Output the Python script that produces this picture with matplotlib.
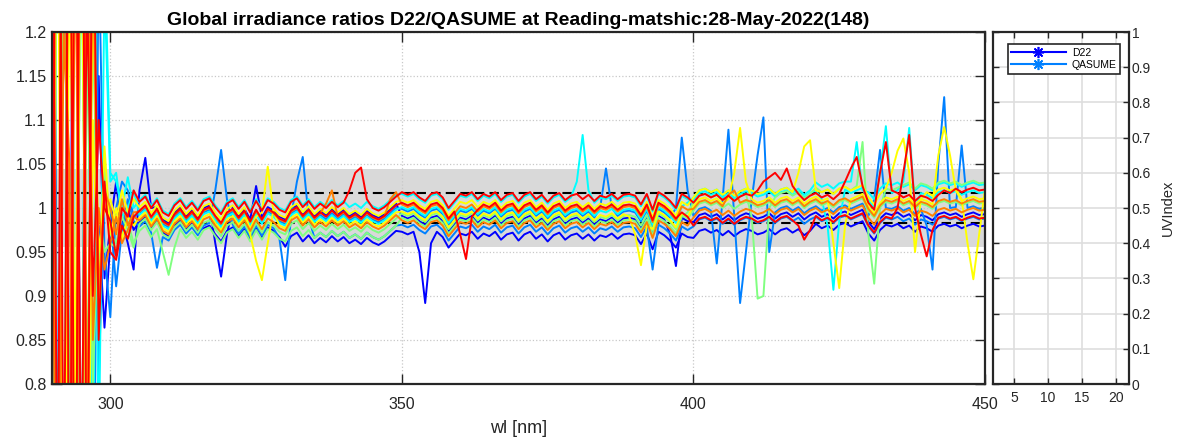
import numpy as np
import matplotlib.pyplot as plt
from matplotlib.ticker import FormatStrFormatter

plt.rcParams['font.family'] = ['Liberation Sans', 'DejaVu Sans']

# wavelength grid [nm]
wl = np.arange(290, 451)

# D22/QASUME global irradiance ratios, one list per scan (290..450 nm)
r01 = [1.45, 0.55, 1.6, 0.45, 1.5, 0.6, 1.3, 0.75, 1.15, 0.92,
       0.98, 1.03, 0.97, 1.0, 0.975, 0.984, 0.99, 0.977, 0.986, 0.972,
       0.968, 0.98, 0.986, 0.976, 0.983, 0.974, 0.977, 0.98, 0.97, 0.962,
       0.974, 0.978, 0.968, 0.976, 0.964, 0.977, 0.966, 0.978, 0.974, 0.967,
       0.956, 0.968, 0.972, 0.962, 0.969, 0.96, 0.966, 0.961, 0.968, 0.962,
       0.967, 0.96, 0.964, 0.959, 0.966, 0.961, 0.958, 0.962, 0.968, 0.974,
       0.973, 0.97, 0.973, 0.95, 0.892, 0.96, 0.973, 0.967, 0.955, 0.963,
       0.971, 0.969, 0.973, 0.965, 0.971, 0.968, 0.973, 0.964, 0.97, 0.972,
       0.963, 0.97, 0.973, 0.965, 0.97, 0.962, 0.969, 0.972, 0.964, 0.969,
       0.971, 0.965, 0.97, 0.963, 0.969, 0.967, 0.971, 0.965, 0.97, 0.971,
       0.969, 0.959, 0.971, 0.953, 0.973, 0.969, 0.963, 0.955, 0.971, 0.967,
       0.966, 0.974, 0.976, 0.972, 0.975, 0.969, 0.974, 0.968, 0.973, 0.976,
       0.974, 0.97, 0.972, 0.976, 0.97, 0.975, 0.977, 0.972, 0.976, 0.969,
       0.974, 0.982, 0.977, 0.98, 0.975, 0.981, 0.983, 0.979, 0.982, 0.985,
       0.971, 0.963, 0.975, 0.981, 0.979, 0.982, 0.977, 0.98, 0.973, 0.979,
       0.977, 0.973, 0.98, 0.982, 0.979, 0.981, 0.977, 0.98, 0.982, 0.979,
       0.98]
r02 = [1.8, 0.35, 1.45, 0.65, 1.85, 0.45, 1.55, 0.8, 0.98, 0.864,
       0.96, 1.0, 0.985, 0.96, 0.93, 1.02, 1.057, 1.0, 1.001, 0.987,
       0.983, 0.995, 1.001, 0.991, 0.998, 0.989, 1.0, 1.003, 0.96, 0.922,
       0.97, 1.001, 0.991, 0.999, 0.987, 1.025, 0.989, 1.001, 0.997, 0.99,
       0.987, 0.999, 1.003, 0.993, 1.0, 0.991, 0.997, 0.992, 0.999, 0.993,
       0.998, 0.991, 0.995, 0.99, 0.997, 0.992, 0.989, 0.993, 0.999, 1.005,
       0.991, 0.988, 0.991, 0.985, 0.981, 0.989, 0.991, 0.985, 0.973, 0.981,
       0.989, 0.987, 0.991, 0.983, 0.989, 0.986, 0.991, 0.982, 0.988, 0.99,
       0.981, 0.988, 0.991, 0.983, 0.988, 0.98, 0.987, 0.99, 0.982, 0.987,
       0.989, 0.983, 0.988, 0.981, 0.987, 0.985, 0.989, 0.983, 0.988, 0.989,
       0.987, 0.977, 0.989, 0.971, 0.991, 0.987, 0.97, 0.934, 0.989, 0.985,
       0.984, 0.992, 0.994, 0.99, 0.993, 0.987, 0.992, 0.986, 0.991, 0.994,
       0.992, 0.988, 0.99, 0.994, 0.988, 0.993, 0.995, 0.99, 0.994, 0.987,
       0.992, 0.995, 0.99, 0.993, 0.988, 0.994, 0.996, 0.992, 0.995, 0.998,
       0.984, 0.976, 0.988, 0.994, 0.992, 0.995, 0.99, 0.993, 0.986, 0.992,
       0.99, 0.986, 0.993, 0.995, 0.992, 0.994, 0.99, 0.993, 0.995, 0.992,
       0.993]
r03 = [0.88, 1.7, 0.5, 1.6, 0.4, 1.5, 0.6, 1.35, 0.8, 1.04,
       0.99, 0.911, 0.975, 1.01, 0.985, 0.979, 0.985, 0.972, 0.932, 0.967,
       0.963, 0.975, 0.981, 0.971, 0.978, 0.969, 0.98, 0.983, 1.02, 1.066,
       1.01, 0.981, 0.971, 0.979, 0.967, 0.98, 0.969, 0.981, 0.977, 0.965,
       0.918, 0.99, 1.03, 1.058, 0.99, 0.966, 0.972, 0.967, 0.974, 0.968,
       0.973, 0.966, 0.97, 0.965, 0.972, 0.967, 0.964, 0.968, 0.974, 0.98,
       0.981, 0.978, 0.981, 0.975, 0.971, 0.979, 0.981, 0.975, 0.963, 0.971,
       0.979, 0.977, 0.981, 0.973, 0.979, 0.976, 0.981, 0.972, 0.978, 0.98,
       0.971, 0.978, 0.981, 0.973, 0.978, 0.97, 0.977, 0.98, 0.972, 0.977,
       0.979, 0.973, 0.978, 0.971, 0.977, 0.975, 0.979, 0.973, 0.978, 0.979,
       0.977, 0.967, 0.979, 0.93, 0.981, 0.977, 0.971, 0.963, 0.979, 0.975,
       0.979, 0.987, 0.989, 0.985, 0.988, 0.982, 0.987, 0.981, 0.986, 0.989,
       0.987, 0.983, 0.985, 0.989, 0.983, 0.988, 0.99, 0.985, 0.989, 0.982,
       0.987, 0.99, 0.985, 0.988, 0.983, 0.989, 0.991, 0.987, 0.99, 0.993,
       0.979, 0.971, 0.983, 0.989, 0.987, 0.99, 0.985, 0.988, 0.981, 0.987,
       0.985, 0.981, 0.988, 0.99, 0.987, 0.989, 0.985, 0.988, 0.99, 0.987,
       0.988]
r04 = [1.9, 0.6, 1.8, 0.35, 1.7, 0.5, 1.6, 0.45, 1.3, 0.95,
       0.876, 1.0, 1.03, 1.02, 0.99, 0.994, 1.0, 0.987, 0.996, 0.982,
       0.978, 0.99, 0.996, 0.986, 0.993, 0.984, 0.995, 0.998, 0.988, 0.98,
       0.992, 0.996, 0.986, 0.994, 0.982, 0.995, 0.984, 0.996, 0.992, 0.985,
       0.982, 0.994, 0.998, 0.988, 0.995, 0.986, 0.992, 0.987, 0.994, 0.988,
       0.993, 0.986, 0.99, 0.985, 0.992, 0.987, 0.984, 0.988, 0.994, 1.0,
       0.999, 0.996, 0.999, 0.993, 0.989, 0.997, 0.999, 0.993, 0.981, 0.989,
       0.997, 0.995, 0.999, 0.991, 0.997, 0.994, 0.999, 0.99, 0.996, 0.998,
       0.989, 0.996, 0.999, 0.991, 0.996, 0.988, 0.995, 0.998, 0.99, 0.995,
       0.997, 0.991, 0.996, 0.989, 1.0, 1.045, 1.0, 0.991, 0.996, 0.997,
       0.995, 0.985, 0.997, 0.979, 0.999, 0.995, 0.989, 1.0, 1.08, 1.02,
       0.991, 0.999, 1.001, 0.997, 0.937, 1.01, 1.089, 0.99, 0.892, 0.95,
       1.01, 1.06, 1.103, 0.95, 0.995, 1.0, 1.002, 0.997, 1.001, 0.994,
       0.999, 1.002, 0.997, 1.0, 0.995, 1.001, 1.003, 0.999, 1.002, 1.005,
       0.991, 1.01, 1.066, 1.0, 0.999, 1.002, 0.997, 1.0, 0.993, 0.999,
       0.98, 0.93, 1.05, 1.126, 1.0, 1.001, 1.071, 1.0, 1.002, 0.999,
       1.0]
r05 = [1.5, 0.3, 1.9, 0.5, 1.7, 0.4, 1.8, 0.6, 1.6, 1.3,
       1.04, 1.03, 1.0, 1.035, 1.0, 1.009, 1.015, 1.002, 1.011, 0.997,
       0.993, 1.005, 1.011, 1.001, 1.008, 0.999, 1.01, 1.013, 1.003, 0.995,
       1.007, 1.011, 1.001, 1.009, 0.997, 1.01, 0.999, 1.011, 1.007, 1.0,
       0.997, 1.009, 1.013, 1.003, 1.01, 1.001, 1.007, 1.002, 1.009, 1.003,
       1.008, 1.001, 1.005, 1.0, 1.007, 1.002, 0.999, 1.003, 1.009, 1.015,
       1.016, 1.013, 1.016, 1.01, 1.006, 1.014, 1.016, 1.01, 0.998, 1.006,
       1.014, 1.012, 1.016, 1.008, 1.014, 1.011, 1.016, 1.007, 1.013, 1.015,
       1.006, 1.013, 1.016, 1.008, 1.013, 1.005, 1.012, 1.015, 1.007, 1.012,
       1.03, 1.083, 1.02, 1.006, 1.012, 1.01, 1.014, 1.008, 1.013, 1.014,
       1.012, 1.002, 1.014, 0.996, 1.016, 1.012, 1.006, 0.998, 1.014, 1.01,
       1.009, 1.017, 1.019, 1.015, 1.018, 1.012, 1.017, 1.011, 1.016, 1.019,
       1.017, 1.013, 1.015, 1.019, 1.013, 1.018, 1.02, 1.015, 1.019, 1.012,
       1.017, 1.02, 1.01, 0.98, 0.907, 0.985, 1.021, 1.017, 1.02, 1.023,
       1.009, 1.001, 1.04, 1.093, 1.017, 1.02, 1.03, 1.091, 1.0, 1.017,
       1.015, 1.011, 1.018, 1.02, 1.017, 1.019, 1.015, 1.018, 1.02, 1.017,
       1.018]
r06 = [0.7, 1.8, 0.4, 1.9, 0.6, 1.7, 0.5, 1.5, 0.7, 1.25,
       1.03, 1.04, 0.99, 1.0, 1.02, 0.992, 0.998, 0.985, 0.994, 0.98,
       0.976, 0.988, 0.994, 0.984, 0.991, 0.982, 0.993, 0.996, 0.986, 0.978,
       0.99, 0.994, 0.984, 0.992, 0.98, 0.993, 0.982, 0.994, 0.99, 0.983,
       0.98, 0.992, 0.996, 0.986, 0.993, 0.984, 0.99, 0.985, 0.992, 0.986,
       0.991, 0.984, 0.988, 0.983, 0.99, 0.985, 0.982, 0.986, 0.992, 0.998,
       1.001, 0.998, 1.001, 0.995, 0.991, 0.999, 1.001, 0.995, 0.983, 0.991,
       0.999, 0.997, 1.001, 0.993, 0.999, 0.996, 1.001, 0.992, 0.998, 1.0,
       0.991, 0.998, 1.001, 0.993, 0.998, 0.99, 0.997, 1.0, 0.992, 0.997,
       0.999, 0.993, 0.998, 0.991, 0.997, 0.995, 0.999, 0.993, 0.998, 0.999,
       0.997, 0.987, 0.999, 0.981, 1.001, 0.997, 0.991, 0.983, 1.002, 1.006,
       1.012, 1.02, 1.022, 1.018, 1.021, 1.015, 1.02, 1.014, 1.019, 1.022,
       1.02, 1.016, 1.018, 1.022, 1.016, 1.021, 1.023, 1.018, 1.022, 1.015,
       1.02, 1.029, 1.024, 1.027, 1.022, 1.028, 1.03, 1.03, 1.075, 1.02,
       1.018, 1.01, 1.022, 1.028, 1.026, 1.029, 1.024, 1.027, 1.02, 1.026,
       1.024, 1.02, 1.027, 1.029, 1.026, 1.028, 1.024, 1.027, 1.029, 1.026,
       1.027]
r07 = [1.3, 0.4, 1.5, 0.7, 1.6, 0.45, 1.2, 0.8, 1.0, 0.95,
       0.96, 0.955, 0.97, 0.985, 0.96, 0.974, 0.98, 0.967, 0.976, 0.95,
       0.924, 0.955, 0.976, 0.966, 0.973, 0.964, 0.975, 0.978, 0.968, 0.96,
       0.972, 0.976, 0.966, 0.974, 0.962, 0.975, 0.964, 0.976, 0.972, 0.965,
       0.962, 0.974, 0.978, 0.968, 0.975, 0.966, 0.972, 0.967, 0.974, 0.968,
       0.973, 0.966, 0.97, 0.965, 0.972, 0.967, 0.964, 0.968, 0.974, 0.98,
       0.989, 0.986, 0.989, 0.983, 0.979, 0.987, 0.989, 0.983, 0.971, 0.979,
       0.987, 0.985, 0.989, 0.981, 0.987, 0.984, 0.989, 0.98, 0.986, 0.988,
       0.979, 0.986, 0.989, 0.981, 0.986, 0.978, 0.985, 0.988, 0.98, 0.985,
       0.987, 0.981, 0.986, 0.979, 0.985, 0.983, 0.987, 0.981, 0.986, 0.987,
       0.985, 0.975, 0.987, 0.969, 0.989, 0.985, 0.979, 0.971, 0.99, 0.995,
       1.006, 1.014, 1.016, 1.012, 1.015, 1.009, 1.014, 1.008, 1.013, 1.016,
       0.99, 0.897, 0.9, 1.0, 1.012, 1.017, 1.019, 1.014, 1.018, 1.011,
       1.016, 1.023, 1.018, 1.021, 1.016, 1.022, 1.024, 1.02, 1.025, 1.075,
       0.97, 0.914, 1.0, 1.022, 1.02, 1.023, 1.026, 1.029, 1.022, 1.028,
       1.026, 1.022, 1.029, 1.031, 1.028, 1.03, 1.026, 1.029, 1.031, 1.028,
       1.029]
r08 = [0.5, 1.5, 0.6, 1.4, 0.7, 1.3, 0.8, 1.2, 0.93, 1.05,
       0.97, 0.96, 0.99, 0.975, 0.955, 0.982, 0.988, 0.975, 0.984, 0.97,
       0.966, 0.978, 0.984, 0.974, 0.981, 0.972, 0.983, 0.986, 0.976, 0.968,
       0.98, 0.984, 0.974, 0.982, 0.97, 0.983, 0.972, 0.984, 0.98, 0.973,
       0.97, 0.982, 0.986, 0.976, 0.983, 0.974, 0.98, 0.975, 0.982, 0.976,
       0.981, 0.974, 0.978, 0.973, 0.98, 0.975, 0.972, 0.976, 0.982, 0.988,
       0.994, 0.991, 0.994, 0.988, 0.984, 0.992, 0.994, 0.988, 0.976, 0.984,
       0.992, 0.99, 0.994, 0.986, 0.992, 0.989, 0.994, 0.985, 0.991, 0.993,
       0.984, 0.991, 0.994, 0.986, 0.991, 0.983, 0.99, 0.993, 0.985, 0.99,
       0.992, 0.986, 0.991, 0.984, 0.99, 0.988, 0.992, 0.986, 0.991, 0.992,
       0.99, 0.98, 0.992, 0.974, 0.994, 0.99, 0.984, 0.976, 0.992, 0.988,
       0.997, 1.005, 1.007, 1.003, 1.006, 1.0, 1.005, 0.999, 1.004, 1.007,
       1.005, 1.001, 1.003, 1.007, 1.001, 1.006, 1.008, 1.003, 1.007, 1.0,
       1.005, 1.008, 1.003, 1.006, 1.001, 1.007, 1.009, 1.005, 1.008, 1.011,
       0.997, 0.989, 1.001, 1.007, 1.005, 1.008, 1.003, 1.006, 0.999, 1.005,
       1.003, 0.999, 1.006, 1.008, 1.005, 1.007, 1.003, 1.006, 1.008, 1.005,
       1.006]
r09 = [1.2, 1.7, 0.4, 1.3, 0.8, 1.6, 0.5, 1.1, 0.892, 1.07,
       0.97, 1.0, 0.965, 0.99, 0.98, 0.989, 0.995, 0.982, 0.991, 0.977,
       0.973, 0.985, 0.991, 0.981, 0.988, 0.979, 0.99, 0.993, 0.983, 0.975,
       0.987, 0.991, 0.981, 0.989, 0.977, 0.99, 0.995, 1.047, 0.995, 0.98,
       0.977, 0.989, 0.993, 0.983, 0.99, 0.981, 0.987, 0.982, 0.989, 0.983,
       0.988, 0.981, 0.985, 0.98, 0.987, 0.982, 0.979, 0.983, 0.989, 0.995,
       0.996, 0.993, 0.996, 0.99, 0.986, 0.994, 0.996, 0.99, 0.978, 0.986,
       0.994, 0.992, 0.996, 0.988, 0.994, 0.991, 0.996, 0.987, 0.993, 0.995,
       0.986, 0.993, 0.996, 0.988, 0.993, 0.985, 0.992, 0.995, 0.987, 0.992,
       0.994, 0.988, 0.993, 0.986, 0.992, 0.99, 0.994, 0.988, 0.993, 0.99,
       0.97, 0.935, 0.98, 0.976, 0.996, 0.992, 0.986, 0.978, 0.994, 0.99,
       1.002, 1.01, 1.012, 1.008, 1.011, 1.005, 1.01, 1.04, 1.091, 1.03,
       1.01, 1.006, 1.008, 1.012, 1.006, 1.011, 1.013, 1.008, 1.012, 1.005,
       1.01, 1.013, 1.008, 1.011, 0.96, 0.909, 0.98, 1.01, 1.013, 1.016,
       1.002, 0.994, 1.006, 1.012, 1.01, 1.013, 1.008, 1.011, 1.004, 1.01,
       1.008, 1.004, 1.06, 1.092, 1.06, 1.02, 1.008, 1.011, 1.013, 1.01,
       1.011]
r10 = [0.9, 1.4, 0.3, 1.8, 0.55, 1.45, 0.65, 1.25, 0.95, 1.0,
       1.01, 0.985, 1.02, 0.995, 1.01, 1.001, 1.007, 0.994, 1.003, 0.989,
       0.985, 0.997, 1.003, 0.993, 1.0, 0.991, 1.002, 1.005, 0.995, 0.987,
       0.999, 1.003, 0.993, 1.001, 0.97, 0.94, 0.918, 0.96, 0.999, 0.992,
       0.989, 1.001, 1.005, 0.995, 1.002, 0.993, 0.999, 0.994, 1.001, 0.995,
       1.0, 0.993, 0.997, 0.992, 0.999, 0.994, 0.991, 0.995, 1.001, 1.007,
       1.009, 1.006, 1.009, 1.003, 0.999, 1.007, 1.009, 1.003, 0.991, 0.999,
       1.007, 1.005, 1.009, 1.001, 1.007, 1.004, 1.009, 1.0, 1.006, 1.008,
       0.999, 1.006, 1.009, 1.001, 1.006, 0.998, 1.005, 1.008, 1.0, 1.005,
       1.007, 1.001, 1.006, 0.999, 1.005, 1.003, 1.007, 1.001, 1.006, 1.007,
       1.005, 0.995, 1.007, 0.989, 1.009, 1.005, 0.999, 0.991, 1.007, 1.003,
       1.012, 1.02, 1.022, 1.018, 1.021, 1.015, 1.02, 1.014, 1.019, 1.022,
       1.02, 1.016, 1.018, 1.022, 1.016, 1.021, 1.023, 1.018, 1.04, 1.07,
       1.077, 1.02, 1.018, 1.021, 1.016, 1.022, 1.024, 1.02, 1.023, 1.026,
       1.012, 1.004, 1.016, 1.022, 1.04, 1.065, 1.079, 1.04, 0.95, 1.01,
       1.018, 1.014, 1.021, 1.023, 1.02, 1.022, 1.01, 0.96, 0.919, 0.97,
       1.021]
r11 = [1.65, 0.5, 1.2, 1.05, 0.4, 1.9, 0.7, 1.3, 0.9, 1.02,
       1.0, 0.97, 1.01, 0.98, 0.995, 0.996, 1.002, 0.989, 0.998, 0.984,
       0.98, 0.992, 0.998, 0.988, 0.995, 0.986, 0.997, 1.0, 0.99, 0.982,
       0.994, 0.998, 0.988, 0.996, 0.984, 0.997, 0.986, 0.998, 0.994, 0.987,
       0.984, 0.996, 1.0, 0.99, 0.997, 0.988, 0.994, 1.005, 1.02, 0.99,
       0.995, 0.988, 0.992, 0.987, 0.994, 0.989, 0.986, 0.99, 1.01, 1.018,
       1.004, 1.001, 1.004, 0.998, 0.994, 1.002, 1.004, 0.998, 0.986, 0.994,
       1.002, 1.0, 1.004, 0.996, 1.002, 0.999, 1.004, 0.995, 1.001, 1.003,
       0.994, 1.001, 1.004, 0.996, 1.001, 0.993, 1.0, 1.003, 0.995, 1.0,
       1.002, 0.996, 1.001, 0.994, 1.0, 0.998, 1.002, 0.996, 1.001, 1.002,
       1.0, 0.99, 1.002, 0.984, 1.004, 1.0, 0.994, 0.986, 1.002, 0.998,
       0.999, 1.007, 1.009, 1.005, 1.008, 1.002, 1.015, 1.02, 1.006, 1.009,
       1.007, 1.003, 1.005, 1.009, 1.003, 1.008, 1.01, 1.005, 1.009, 1.002,
       1.007, 1.01, 1.005, 1.008, 1.003, 1.009, 1.011, 1.007, 1.01, 1.013,
       0.999, 0.991, 1.003, 1.009, 1.007, 1.01, 1.005, 1.008, 1.001, 1.007,
       1.005, 1.001, 1.008, 1.01, 1.007, 1.009, 1.005, 1.008, 1.01, 1.007,
       1.008]
r12 = [1.1, 0.45, 1.75, 0.5, 1.35, 0.55, 1.5, 0.85, 1.0, 0.93,
       0.96, 0.99, 0.96, 0.975, 0.99, 0.986, 0.992, 0.979, 0.988, 0.974,
       0.97, 0.982, 0.988, 0.978, 0.985, 0.976, 0.987, 0.99, 0.98, 0.972,
       0.984, 0.988, 0.978, 0.986, 0.974, 0.987, 0.976, 0.988, 0.984, 0.977,
       0.974, 0.986, 0.99, 0.98, 0.987, 0.978, 0.984, 0.979, 0.986, 0.98,
       0.985, 0.978, 0.982, 0.977, 0.984, 0.979, 0.976, 0.98, 0.986, 0.992,
       0.986, 0.983, 0.986, 0.98, 0.976, 0.984, 0.986, 0.98, 0.968, 0.976,
       0.984, 0.982, 0.986, 0.978, 0.984, 0.981, 0.986, 0.977, 0.983, 0.985,
       0.976, 0.983, 0.986, 0.978, 0.983, 0.975, 0.982, 0.985, 0.977, 0.982,
       0.984, 0.978, 0.983, 0.976, 0.982, 0.98, 0.984, 0.978, 0.983, 0.984,
       0.982, 0.972, 0.984, 0.966, 0.986, 0.982, 0.976, 0.968, 0.984, 0.98,
       0.989, 0.997, 0.999, 0.995, 0.998, 0.992, 0.997, 0.991, 0.996, 0.999,
       0.997, 0.993, 0.995, 0.999, 0.993, 0.998, 1.0, 0.995, 0.999, 0.992,
       0.997, 1.0, 0.995, 0.998, 0.993, 0.999, 1.001, 0.997, 1.0, 1.003,
       0.989, 0.981, 0.993, 0.999, 0.997, 1.0, 0.995, 0.998, 0.991, 0.997,
       0.995, 0.991, 0.998, 1.0, 0.997, 0.999, 0.995, 0.998, 1.0, 0.997,
       0.998]
r13 = [1.4, 0.6, 1.95, 0.55, 1.5, 0.65, 1.25, 0.9, 1.1, 1.0,
       0.985, 0.945, 1.0, 0.99, 1.02, 1.007, 1.013, 1.0, 1.009, 0.995,
       0.991, 1.003, 1.009, 0.999, 1.006, 0.997, 1.008, 1.011, 1.001, 0.993,
       1.005, 1.009, 0.999, 1.007, 0.995, 1.008, 0.997, 1.009, 1.005, 0.998,
       0.995, 1.007, 1.011, 1.001, 1.008, 0.999, 1.005, 1.0, 1.007, 1.001,
       1.006, 1.02, 1.04, 1.046, 1.01, 1.0, 0.997, 1.001, 1.007, 1.013,
       1.018, 1.015, 1.018, 1.012, 1.008, 1.016, 1.018, 1.012, 1.0, 1.008,
       1.016, 1.014, 1.018, 1.01, 1.016, 1.013, 1.018, 1.009, 1.015, 1.017,
       1.008, 1.015, 1.018, 1.01, 1.015, 1.007, 1.014, 1.017, 1.009, 1.014,
       1.016, 1.01, 1.015, 1.008, 1.014, 1.012, 1.016, 1.01, 1.015, 1.016,
       1.014, 1.004, 1.016, 0.998, 1.018, 1.014, 1.008, 1.0, 1.016, 1.012,
       1.006, 1.014, 1.016, 1.012, 1.015, 1.009, 1.014, 1.008, 1.013, 1.016,
       1.014, 1.02, 1.03, 1.035, 1.04, 1.032, 1.045, 1.025, 1.016, 1.009,
       1.014, 1.017, 1.012, 1.015, 1.01, 1.016, 1.03, 1.045, 1.058, 1.025,
       1.006, 0.998, 1.04, 1.075, 1.02, 1.017, 1.012, 1.015, 1.008, 1.014,
       1.012, 1.008, 1.015, 1.02, 1.017, 1.022, 1.018, 1.021, 1.023, 1.02,
       1.021]
r14 = [0.75, 1.85, 0.6, 1.55, 0.45, 1.75, 0.55, 1.45, 0.85, 1.03,
       0.95, 0.941, 0.98, 0.965, 0.99, 0.997, 1.003, 0.99, 0.999, 0.985,
       0.981, 0.993, 0.999, 0.989, 0.996, 0.987, 0.998, 1.001, 0.991, 0.983,
       0.995, 0.999, 0.989, 0.997, 0.985, 0.998, 0.987, 0.999, 0.995, 0.988,
       0.985, 0.997, 1.001, 0.991, 0.998, 0.989, 0.995, 0.99, 0.997, 0.991,
       0.996, 0.989, 0.993, 0.988, 0.995, 0.99, 0.987, 0.991, 0.997, 1.003,
       1.006, 1.003, 1.006, 1.0, 0.996, 1.004, 1.006, 1.0, 0.988, 0.996,
       0.97, 0.942, 0.99, 0.998, 1.004, 1.001, 1.006, 0.997, 1.003, 1.005,
       0.996, 1.003, 1.006, 0.998, 1.003, 0.995, 1.002, 1.005, 0.997, 1.002,
       1.004, 0.998, 1.003, 0.996, 1.002, 1.0, 1.004, 0.998, 1.003, 1.004,
       1.002, 0.992, 1.004, 0.986, 1.006, 1.002, 0.996, 0.988, 0.995, 0.99,
       0.98, 0.988, 0.99, 0.986, 0.989, 0.983, 0.988, 0.982, 0.987, 0.99,
       0.988, 0.984, 0.986, 0.99, 0.984, 0.989, 0.991, 0.986, 0.98, 0.964,
       0.975, 0.991, 0.986, 0.989, 0.984, 0.99, 0.992, 0.988, 0.991, 0.994,
       0.98, 0.972, 0.984, 0.99, 0.988, 1.0, 1.04, 1.083, 1.0, 0.97,
       0.945, 0.975, 0.989, 0.991, 0.988, 0.99, 0.986, 0.989, 0.991, 0.988,
       0.989]

ratios = [r01, r02, r03, r04, r05, r06, r07, r08, r09, r10, r11, r12, r13, r14]
colors = ['#0000ff', '#0000ff', '#0080ff', '#0080ff', '#00ffff', '#00ffff',
          '#80ff80', '#80ff80', '#ffff00', '#ffff00', '#ff8000', '#ff8000',
          '#ff0000', '#ff0000']

# tolerance band and limits around ratio 1
band_lo, band_hi = 0.956, 1.044
lim_lo, lim_hi = 0.9825, 1.0175

# UV index panel (no values for this day)
uvi_hour_d22, uvi_d22 = [], []
uvi_hour_qasume, uvi_qasume = [], []

W, H = 1181, 444
fig = plt.figure(figsize=(W / 100, H / 100), dpi=100)
dark = '#262626'

ax = fig.add_axes([52 / W, 1 - 384 / H, 933 / W, 352 / H])
ax.fill_between([290, 450], band_lo, band_hi, color='#d9d9d9', lw=0, zorder=1)
for r, c in zip(ratios, colors):
    ax.plot(wl, r, color=c, lw=1.4, zorder=2)
for y in (lim_lo, lim_hi):
    ax.axhline(y, color='k', lw=1.5, ls=(0, (4.5, 2.5)), zorder=1.8)

ax.set_xlim(290, 450)
ax.set_ylim(0.8, 1.2)
ax.set_xticks([300, 350, 400, 450])
ax.set_yticks(np.arange(0.8, 1.201, 0.05))
ax.yaxis.set_major_formatter(FormatStrFormatter('%g'))
ax.set_axisbelow('line')
ax.grid(True, ls=':', color='#c8c8c8', lw=0.9)
ax.tick_params(direction='in', top=True, right=True, length=7, width=1,
               labelsize=11.5, labelcolor=dark, color=dark)
ax.tick_params(axis='x', pad=9)
ax.tick_params(axis='y', pad=4)
for s in ax.spines.values():
    s.set_linewidth(1.6)
    s.set_color(dark)
ax.set_xlabel('wl [nm]', fontsize=13, color=dark, labelpad=6)
ax.set_title('Global irradiance ratios D22/QASUME at Reading-matshic:28-May-2022(148)',
             fontsize=14, fontweight='bold', pad=5)

# asterisk marker: eight thin spokes
star = (8, 2, 0)
ax2 = fig.add_axes([992.7 / W, 1 - 384 / H, 136.3 / W, 352 / H])
ax2.plot(uvi_hour_d22, uvi_d22, '-', marker=star, color='#0000ff', lw=1.5, ms=8,
         mew=1.2, label='D22')
ax2.plot(uvi_hour_qasume, uvi_qasume, '-', marker=star, color='#0080ff', lw=1.5, ms=8,
         mew=1.2, label='QASUME')
ax2.set_xlim(1.85, 21.9)
ax2.set_ylim(0, 1)
ax2.set_xticks([5, 10, 15, 20])
ax2.set_yticks(np.arange(0, 1.01, 0.1))
ax2.yaxis.set_major_formatter(FormatStrFormatter('%g'))
ax2.yaxis.tick_right()
ax2.yaxis.set_label_position('right')
ax2.set_axisbelow(True)
ax2.grid(True, color='#dedede', lw=1.2)
ax2.tick_params(direction='in', top=True, left=True, right=True, length=4, width=1,
                labelsize=10, labelcolor=dark, color=dark)
ax2.tick_params(axis='x', pad=5)
ax2.tick_params(axis='y', pad=2)
for s in ax2.spines.values():
    s.set_linewidth(1.6)
    s.set_color(dark)
ax2.set_ylabel('UVIndex', fontsize=10.5, color=dark, labelpad=7)
leg = ax2.legend(loc='upper left', bbox_to_anchor=(0.11, 0.965), fontsize=7.5,
                 fancybox=False, edgecolor=dark, framealpha=1, handlelength=5.2,
                 borderpad=0.35, labelspacing=0.2, handletextpad=0.6, borderaxespad=0)
leg.get_frame().set_linewidth(1.2)

fig.savefig('out.png', dpi=100)
